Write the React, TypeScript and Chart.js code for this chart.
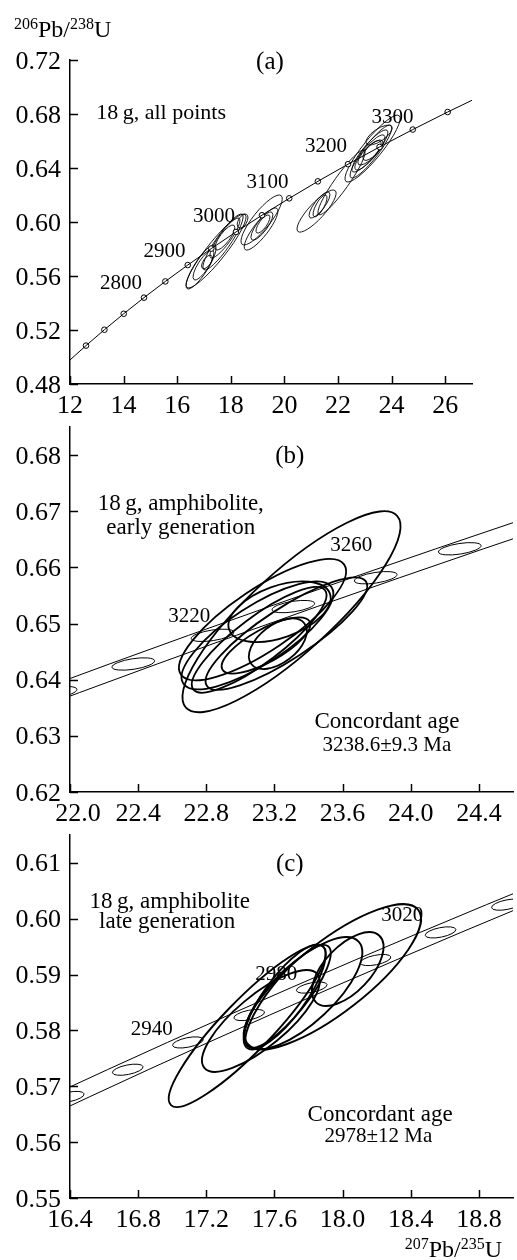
import React, { useEffect, useRef } from "react";
import { Chart, registerables } from "chart.js";
Chart.register(...registerables);

// ---- decay constants (1/Ma) used to place the concordia
const LAMBDA_235 = 9.8485e-4;
const LAMBDA_238 = 1.55125e-4;
const conX = (t: number) => Math.exp(LAMBDA_235 * t) - 1;
const conY = (t: number) => Math.exp(LAMBDA_238 * t) - 1;

// ---- panel (a)
const agesLineA = [2600, 2650, 2700, 2750, 2800, 2850, 2900, 2950, 3000, 3050, 3100, 3150, 3200, 3250, 3300, 3350, 3400];
const agesMarkA = [2650, 2700, 2750, 2800, 2850, 2900, 2950, 3000, 3050, 3100, 3150, 3200, 3250, 3300, 3350];
const xTicksA = [12, 14, 16, 18, 20, 22, 24, 26];
const yTicksA = [0.48, 0.52, 0.56, 0.6, 0.64, 0.68, 0.72];
// [207Pb/235U, 206Pb/238U, half-width x, half-width y, rho]
const ellipsesA = [
  [17.45, 0.5785, 1.12, 0.0274, 0.92],
  [16.89, 0.5667, 0.56, 0.0163, 0.85],
  [16.98, 0.5681, 0.39, 0.011, 0.8],
  [17.71, 0.5852, 0.75, 0.0207, 0.9],
  [17.78, 0.5881, 0.56, 0.0148, 0.88],
  [17.78, 0.5885, 0.37, 0.0093, 0.8],
  [18.44, 0.6007, 0.2, 0.0052, 0.5],
  [17.11, 0.5704, 0.2, 0.005, 0.6],
  [19.15, 0.6015, 0.77, 0.0185, 0.85],
  [19.13, 0.5948, 0.63, 0.0156, 0.85],
  [19.16, 0.597, 0.41, 0.0104, 0.8],
  [19.2, 0.5985, 0.26, 0.0067, 0.75],
  [21.2, 0.6081, 0.73, 0.0156, 0.85],
  [21.31, 0.6126, 0.39, 0.0096, 0.8],
  [21.33, 0.6119, 0.26, 0.0081, 0.75],
  [22.13, 0.6293, 0.88, 0.024, 0.93],
  [23.29, 0.6544, 1.03, 0.0248, 0.9],
  [23.23, 0.6522, 0.78, 0.0196, 0.9],
  [23.19, 0.6526, 0.67, 0.0156, 0.88],
  [23.19, 0.6515, 0.56, 0.013, 0.85],
  [23.21, 0.6515, 0.47, 0.0093, 0.8],
  [23.27, 0.653, 0.34, 0.0074, 0.7],
  [23.53, 0.6644, 0.49, 0.0074, 0.7],
];

// ---- panel (b)
const agesLineB = [3160, 3180, 3200, 3220, 3240, 3260, 3280, 3300, 3320];
const agesMarkB = [3180, 3200, 3220, 3240, 3260, 3280, 3300];
const xTicksB = [22.0, 22.4, 22.8, 23.2, 23.6, 24.0, 24.4];
const yTicksB = [0.62, 0.63, 0.64, 0.65, 0.66, 0.67, 0.68];
const bandB = 0.14;
const markerB = [0.125, 0.0011, 0.5];
const ellipsesB = [
  [23.3, 0.6521, 0.64, 0.0179, 0.85],
  [23.13, 0.6507, 0.49, 0.0108, 0.8],
  [23.1, 0.6479, 0.445, 0.0096, 0.78],
  [23.11, 0.6471, 0.395, 0.0094, 0.85],
  [23.23, 0.6521, 0.3, 0.0054, 0.45],
  [23.22, 0.6464, 0.17, 0.0045, 0.5],
  [23.15, 0.6461, 0.26, 0.005, 0.75],
  [23.27, 0.6482, 0.474, 0.01, 0.85],
];

// ---- panel (c)
const agesLineC = [2880, 2900, 2920, 2940, 2960, 2980, 3000, 3020, 3040, 3060, 3080];
const agesMarkC = [2900, 2920, 2940, 2960, 2980, 3000, 3020, 3040, 3060];
const xTicksC = [16.4, 16.8, 17.2, 17.6, 18.0, 18.4, 18.8];
const yTicksC = [0.55, 0.56, 0.57, 0.58, 0.59, 0.6, 0.61];
const bandC = 0.12;
const markerC = [0.09, 0.001, 0.5];
const ellipsesC = [
  [17.44, 0.5808, 0.46, 0.0145, 0.9],
  [17.52, 0.5817, 0.345, 0.0091, 0.78],
  [17.77, 0.5867, 0.345, 0.01, 0.73],
  [18.03, 0.591, 0.21, 0.0066, 0.6],
  [17.94, 0.5896, 0.52, 0.013, 0.8],
  [17.66, 0.586, 0.24, 0.0094, 0.8],
  [17.68, 0.5861, 0.25, 0.0092, 0.84],
];

const FONT = "'Liberation Serif', 'Times New Roman', Times, serif";

type Txt = { t: string; x: number; y: number; size: number };
type Panel = {
  top: number; height: number; padTop: number; padRight: number; xAxisH: number;
  xMin: number; xMax: number; yMin: number; yMax: number;
  xTicks: number[]; yTicks: number[]; xDec: number; yDec: number;
  lineAges: number[]; markAges: number[]; mode: "circle" | "band";
  band: number; marker: number[]; ellipses: number[][]; ellLW: number;
  texts: Txt[]; firstXShift: number;
  yTitle?: boolean; xTitle?: boolean;
};

const panels: Panel[] = [
  {
    top: 0, height: 420, padTop: 60, padRight: 45, xAxisH: 36,
    xMin: 12, xMax: 27, yMin: 0.48, yMax: 0.72,
    xTicks: xTicksA, yTicks: yTicksA, xDec: 0, yDec: 2,
    lineAges: agesLineA, markAges: agesMarkA, mode: "circle",
    band: 0, marker: [], ellipses: ellipsesA, ellLW: 0.9,
    firstXShift: 0, yTitle: true,
    texts: [
      { t: "(a)", x: 19.46, y: 0.7185, size: 25 },
      { t: "18\u2009g, all points", x: 15.4, y: 0.6807, size: 22 },
      { t: "2800", x: 13.9, y: 0.5548, size: 21 },
      { t: "2900", x: 15.53, y: 0.578, size: 21 },
      { t: "3000", x: 17.37, y: 0.6041, size: 21 },
      { t: "3100", x: 19.37, y: 0.6296, size: 21 },
      { t: "3200", x: 21.55, y: 0.6556, size: 21 },
      { t: "3300", x: 24.03, y: 0.6774, size: 21 },
    ],
  },
  {
    top: 420, height: 410, padTop: 7, padRight: 4, xAxisH: 38,
    xMin: 22, xMax: 24.6, yMin: 0.62, yMax: 0.685,
    xTicks: xTicksB, yTicks: yTicksB, xDec: 1, yDec: 2,
    lineAges: agesLineB, markAges: agesMarkB, mode: "band",
    band: bandB, marker: markerB, ellipses: ellipsesB, ellLW: 1.8,
    firstXShift: 8,
    texts: [
      { t: "(b)", x: 23.29, y: 0.6798, size: 25 },
      { t: "18\u2009g, amphibolite,", x: 22.65, y: 0.6713, size: 23 },
      { t: "early generation", x: 22.65, y: 0.667, size: 23 },
      { t: "3220", x: 22.7, y: 0.6512, size: 21 },
      { t: "3260", x: 23.65, y: 0.6639, size: 21 },
      { t: "Concordant age", x: 23.86, y: 0.6325, size: 23 },
      { t: "3238.6\u00b19.3 Ma", x: 23.86, y: 0.6282, size: 21 },
    ],
  },
  {
    top: 830, height: 430, padTop: 5, padRight: 4, xAxisH: 62,
    xMin: 16.4, xMax: 19.0, yMin: 0.55, yMax: 0.615,
    xTicks: xTicksC, yTicks: yTicksC, xDec: 1, yDec: 2,
    lineAges: agesLineC, markAges: agesMarkC, mode: "band",
    band: bandC, marker: markerC, ellipses: ellipsesC, ellLW: 1.9,
    firstXShift: 0, xTitle: true,
    texts: [
      { t: "(c)", x: 17.69, y: 0.6097, size: 25 },
      { t: "18\u2009g, amphibolite", x: 16.985, y: 0.603, size: 23 },
      { t: "late generation", x: 16.97, y: 0.5994, size: 23 },
      { t: "2980", x: 17.61, y: 0.5901, size: 21 },
      { t: "3020", x: 18.35, y: 0.6005, size: 21 },
      { t: "2940", x: 16.88, y: 0.5801, size: 21 },
      { t: "Concordant age", x: 18.22, y: 0.5649, size: 23 },
      { t: "2978\u00b112 Ma", x: 18.21, y: 0.561, size: 21 },
    ],
  },
];

function drawEllipse(ctx: CanvasRenderingContext2D, xs: any, ys: any, e: number[]) {
  const [cx, cy, hx, hy, rho] = e;
  const px = xs.getPixelForValue(cx);
  const py = ys.getPixelForValue(cy);
  const ax = Math.abs(xs.getPixelForValue(cx + hx) - px);
  const ay = Math.abs(ys.getPixelForValue(cy + hy) - py);
  const c = -rho * ax * ay;
  const a2 = ax * ax, b2 = ay * ay;
  const mid = (a2 + b2) / 2;
  const diff = Math.sqrt(((a2 - b2) / 2) ** 2 + c * c);
  const l1 = mid + diff;
  const l2 = Math.max(mid - diff, 0.05);
  const ang = 0.5 * Math.atan2(2 * c, a2 - b2);
  ctx.beginPath();
  ctx.ellipse(px, py, Math.sqrt(l1), Math.sqrt(l2), ang, 0, Math.PI * 2);
  ctx.stroke();
}

function drawSupTitle(ctx: CanvasRenderingContext2D, parts: [string, boolean][], x: number, y: number, align: "left" | "right") {
  const big = `24px ${FONT}`;
  const small = `16px ${FONT}`;
  let total = 0;
  for (const [s, sup] of parts) {
    ctx.font = sup ? small : big;
    total += ctx.measureText(s).width;
  }
  let cx = align === "left" ? x : x - total;
  ctx.textAlign = "left";
  ctx.textBaseline = "alphabetic";
  for (const [s, sup] of parts) {
    ctx.font = sup ? small : big;
    ctx.fillText(s, cx, sup ? y - 8 : y);
    cx += ctx.measureText(s).width;
  }
}

function makePlugin(p: Panel) {
  const drawEllipses = (chart: any) => {
    const { ctx, chartArea: a, scales } = chart;
    const xs = scales.x, ys = scales.y;
    ctx.save();
    ctx.beginPath();
    ctx.rect(a.left, a.top, a.right - a.left, a.bottom - a.top);
    ctx.clip();
    ctx.strokeStyle = "#000";
    if (p.mode === "band") {
      ctx.lineWidth = 1;
      for (const t of p.markAges) {
        drawEllipse(ctx, xs, ys, [conX(t), conY(t), p.marker[0], p.marker[1], p.marker[2]]);
      }
    }
    ctx.lineWidth = p.ellLW;
    for (const e of p.ellipses) drawEllipse(ctx, xs, ys, e);
    ctx.restore();
  };
  return {
    id: "panelDeco",
    beforeDatasetsDraw(chart: any) {
      if (p.mode === "circle") drawEllipses(chart);
    },
    afterDatasetsDraw(chart: any) {
      if (p.mode === "band") drawEllipses(chart);
    },
    afterDraw(chart: any) {
      const { ctx, chartArea: a, scales } = chart;
      const xs = scales.x, ys = scales.y;
      ctx.save();
      ctx.strokeStyle = "#000";
      ctx.fillStyle = "#000";
      ctx.lineWidth = 1.5;
      // inward tick marks
      for (const v of p.xTicks) {
        const px = Math.round(xs.getPixelForValue(v)) + 0.5;
        ctx.beginPath();
        ctx.moveTo(px, a.bottom);
        ctx.lineTo(px, a.bottom - 8);
        ctx.stroke();
      }
      for (const v of p.yTicks) {
        const py = Math.round(ys.getPixelForValue(v)) + 0.5;
        ctx.beginPath();
        ctx.moveTo(a.left, py);
        ctx.lineTo(a.left + 8, py);
        ctx.stroke();
      }
      // tick labels
      ctx.font = `26px ${FONT}`;
      ctx.textAlign = "center";
      ctx.textBaseline = "alphabetic";
      p.xTicks.forEach((v, i) => {
        const px = xs.getPixelForValue(v) + (i === 0 ? p.firstXShift : 0);
        ctx.fillText(v.toFixed(p.xDec), px, a.bottom + 29);
      });
      ctx.textAlign = "right";
      for (const v of p.yTicks) {
        const py = ys.getPixelForValue(v);
        ctx.fillText(v.toFixed(p.yDec), a.left - 9, py + 8.5);
      }
      // annotations
      ctx.textAlign = "center";
      ctx.textBaseline = "middle";
      for (const t of p.texts) {
        ctx.font = `${t.size}px ${FONT}`;
        ctx.fillText(t.t, xs.getPixelForValue(t.x), ys.getPixelForValue(t.y));
      }
      if (p.yTitle) {
        drawSupTitle(ctx, [["206", true], ["Pb/", false], ["238", true], ["U", false]], 14, 37, "left");
      }
      if (p.xTitle) {
        drawSupTitle(ctx, [["207", true], ["Pb/", false], ["235", true], ["U", false]], 502, chart.height - 3, "right");
      }
      ctx.restore();
    },
  };
}

function buildConfig(p: Panel): any {
  const datasets: any[] = [];
  if (p.mode === "circle") {
    datasets.push({
      data: p.lineAges.map((t) => ({ x: conX(t), y: conY(t) })),
      showLine: true, borderColor: "#000", borderWidth: 1, pointRadius: 0, tension: 0,
    });
    datasets.push({
      data: p.markAges.map((t) => ({ x: conX(t), y: conY(t) })),
      showLine: false, pointRadius: 2.8, pointBackgroundColor: "#fff",
      pointBorderColor: "#000", pointBorderWidth: 1,
    });
  } else {
    datasets.push({
      data: p.lineAges.map((t) => ({ x: conX(t) - p.band, y: conY(t) })),
      showLine: true, borderColor: "#000", borderWidth: 1, pointRadius: 0, tension: 0,
    });
    datasets.push({
      data: p.lineAges.map((t) => ({ x: conX(t) + p.band, y: conY(t) })),
      showLine: true, borderColor: "#000", borderWidth: 1, pointRadius: 0, tension: 0,
    });
  }
  const axisCommon = {
    type: "linear",
    grid: { display: false, drawTicks: false },
    border: { display: true, color: "#000", width: 1.5 },
    ticks: { display: false },
  };
  return {
    type: "scatter",
    data: { datasets },
    options: {
      responsive: false,
      animation: false,
      events: [],
      layout: { padding: { top: p.padTop, right: p.padRight, left: 0, bottom: 0 } },
      plugins: { legend: { display: false }, tooltip: { enabled: false }, title: { display: false } },
      scales: {
        x: {
          ...axisCommon, min: p.xMin, max: p.xMax,
          afterBuildTicks: (s: any) => { s.ticks = p.xTicks.map((v) => ({ value: v })); },
          afterFit: (s: any) => { s.height = p.xAxisH; },
        },
        y: {
          ...axisCommon, min: p.yMin, max: p.yMax,
          afterBuildTicks: (s: any) => { s.ticks = p.yTicks.map((v) => ({ value: v })); },
          afterFit: (s: any) => { s.width = 70; },
        },
      },
    },
    plugins: [makePlugin(p)],
  };
}

function PanelChart({ p }: { p: Panel }) {
  const ref = useRef<HTMLCanvasElement | null>(null);
  useEffect(() => {
    if (!ref.current) return;
    const chart = new Chart(ref.current, buildConfig(p));
    return () => chart.destroy();
  }, [p]);
  return (
    <canvas
      ref={ref}
      width={517}
      height={p.height}
      style={{ position: "absolute", left: 0, top: p.top, width: 517, height: p.height }}
    />
  );
}

export default function App() {
  return (
    <div style={{ position: "absolute", left: 0, top: 0, width: 517, height: 1260, background: "#fff", overflow: "hidden" }}>
      {panels.map((p, i) => (
        <PanelChart key={i} p={p} />
      ))}
    </div>
  );
}
